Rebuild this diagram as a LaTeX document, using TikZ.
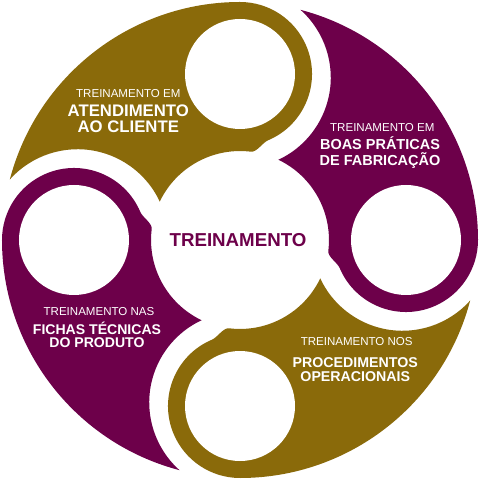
\documentclass[tikz,border=0pt]{standalone}
\usepackage{fontspec}
\setmainfont{Liberation Sans}
\definecolor{gold}{HTML}{8A6A0A}
\definecolor{plum}{HTML}{6D004A}

\begin{document}
\begin{tikzpicture}[scale=0.025,
  headline/.style={text=white, inner sep=0pt, font=\fontsize{8.2}{10}\selectfont},
  topicline/.style={text=white, inner sep=0pt, align=center}]

  % page, white
  \fill[white] (-240,-240) rectangle (240,240);

  % top segment -- gold, head at 90
  \begin{scope}[rotate=0]
    \fill[gold] (90:238) arc[start angle=90, end angle=165.28, radius=238]
      arc[start angle=138.22, end angle=25.07, radius=90.8]
      arc[start angle=154.38, end angle=83, radius=89]
      .. controls +(-7:6) and +(202.9:6) .. (28.02,99.67)
      arc[start angle=-67.1, end angle=90, radius=72] -- cycle;
    \fill[white] (90:166) circle (55);
  \end{scope}

  % left segment -- plum, head at 180
  \begin{scope}[rotate=90]
    \fill[plum] (90:238) arc[start angle=90, end angle=165.28, radius=238]
      arc[start angle=138.22, end angle=25.07, radius=90.8]
      arc[start angle=154.38, end angle=83, radius=89]
      .. controls +(-7:6) and +(202.9:6) .. (28.02,99.67)
      arc[start angle=-67.1, end angle=90, radius=72] -- cycle;
    \fill[white] (90:166) circle (55);
  \end{scope}

  % bottom segment -- gold, head at 270
  \begin{scope}[rotate=180]
    \fill[gold] (90:238) arc[start angle=90, end angle=165.28, radius=238]
      arc[start angle=138.22, end angle=25.07, radius=90.8]
      arc[start angle=154.38, end angle=83, radius=89]
      .. controls +(-7:6) and +(202.9:6) .. (28.02,99.67)
      arc[start angle=-67.1, end angle=90, radius=72] -- cycle;
    \fill[white] (90:166) circle (55);
  \end{scope}

  % right segment -- plum, head at 0
  \begin{scope}[rotate=-90]
    \fill[plum] (90:238) arc[start angle=90, end angle=165.28, radius=238]
      arc[start angle=138.22, end angle=25.07, radius=90.8]
      arc[start angle=154.38, end angle=83, radius=89]
      .. controls +(-7:6) and +(202.9:6) .. (28.02,99.67)
      arc[start angle=-67.1, end angle=90, radius=72] -- cycle;
    \fill[white] (90:166) circle (55);
  \end{scope}

  % hub label
  \node[text=plum, inner sep=0pt, font=\bfseries\fontsize{13.3}{16}\selectfont]
    (hub) at (-2,0.3) {TREINAMENTO};

  % segment labels
  \node[headline] (atendHead) at (-111.7,146.7) {TREINAMENTO EM};
  \node[topicline, font=\bfseries\fontsize{11.9}{11.45}\selectfont]
    (atendBody) at (-111.7,121.4) {ATENDIMENTO\\AO CLIENTE};

  \node[headline] (boasHead) at (142.3,112) {TREINAMENTO EM};
  \node[topicline, font=\bfseries\fontsize{10.3}{11.5}\selectfont]
    (boasBody) at (140,87.5) {BOAS PRÁTICAS\\DE FABRICAÇÃO};

  \node[headline] (fichasHead) at (-141,-72) {TREINAMENTO NAS};
  \node[topicline, font=\bfseries\fontsize{10}{9.4}\selectfont]
    (fichasBody) at (-143,-95.2) {FICHAS TÉCNICAS\\DO PRODUTO};

  \node[headline] (procHead) at (116.7,-102) {TREINAMENTO NOS};
  \node[topicline, font=\bfseries\fontsize{10.1}{10.3}\selectfont]
    (procBody) at (115.3,-129.7) {PROCEDIMENTOS\\OPERACIONAIS};

\end{tikzpicture}
\end{document}
